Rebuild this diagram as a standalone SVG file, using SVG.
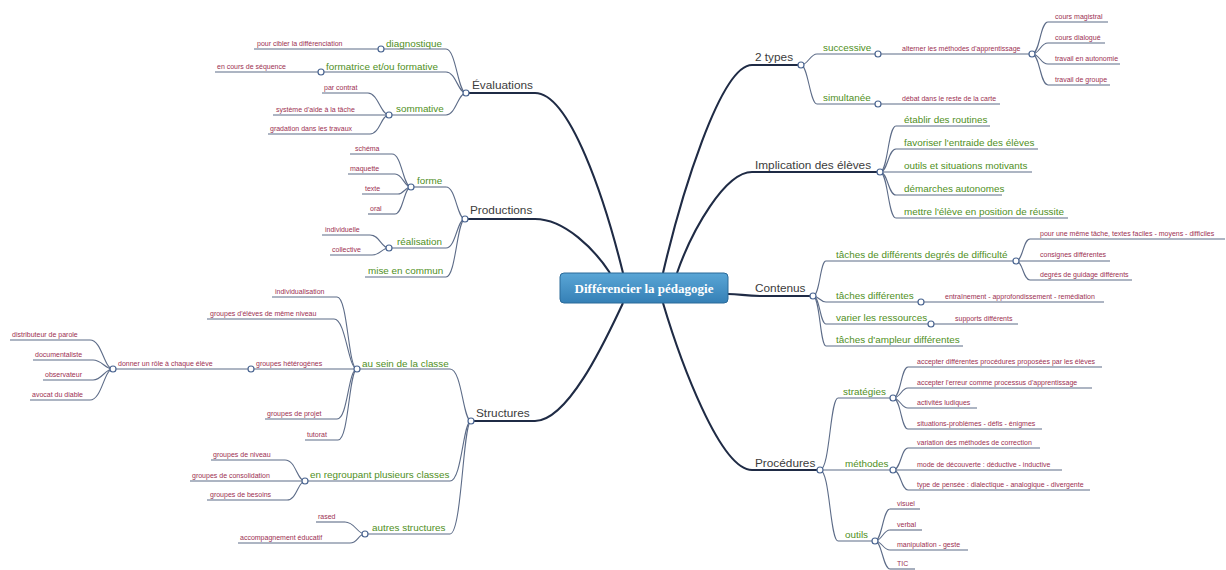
<svg xmlns="http://www.w3.org/2000/svg" width="1226" height="570" viewBox="0 0 1226 570">
<defs>
<linearGradient id="cg" x1="0" y1="0" x2="0" y2="1">
<stop offset="0" stop-color="#5aa6d6"/>
<stop offset="1" stop-color="#3580b6"/>
</linearGradient>
<style>
text{font-family:"Liberation Sans",Arial,sans-serif}
.m{font-size:11.8px;fill:#3c3c3c}
.g{font-size:9.9px;fill:#4f8f23}
.r{font-size:7px;fill:#9c2f52}
.ln{fill:none;stroke:#5d6c88;stroke-width:1.1}
.mb{fill:none;stroke:#1f2b45;stroke-width:2.1}
.k{fill:#fff;stroke:#4a6591;stroke-width:1.2}
.ct{font-family:"Liberation Serif",serif;font-size:13px;font-weight:bold;fill:#fff}
</style>
</defs>
<rect width="1226" height="570" fill="#fff"/>
<g id="connectors">
<path class="mb" d="M466,93 H535 C570,93 605,200 623,273"/>
<path class="mb" d="M465,219 H535 C565,219 595,250 610,273"/>
<path class="mb" d="M471,421 H535 C570,421 610,330 623,303"/>
<path class="mb" d="M801,65 H752 C720,65 680,200 663,273"/>
<path class="mb" d="M880,172 H752 C725,172 692,230 677,273"/>
<path class="mb" d="M728,294 C740,294 745,296 760,296 H813"/>
<path class="mb" d="M820,470 H752 C720,470 680,360 663,303"/>
<path class="ln" d="M446,49 C456,49 458,93 466,93"/>
<path class="ln" d="M446,72 C456,72 458,93 466,93"/>
<path class="ln" d="M446,115 C456,115 458,93 466,93"/>
<path class="ln" d="M368,93 C378,93 381,115 389,115"/>
<path class="ln" d="M370,134 C380,134 381,115 389,115"/>
<path class="ln" d="M446,187 C456,187 457,219 465,219"/>
<path class="ln" d="M446,248 C456,248 457,219 465,219"/>
<path class="ln" d="M446,277 C456,277 457,219 465,219"/>
<path class="ln" d="M392,154 C402,154 403,187 411,187"/>
<path class="ln" d="M395,174 C403,174 404,187 411,187"/>
<path class="ln" d="M398,194 C404,194 405,187 411,187"/>
<path class="ln" d="M395,214 C403,214 404,187 411,187"/>
<path class="ln" d="M370,235 C380,235 381,248 389,248"/>
<path class="ln" d="M372,255 C380,255 382,248 389,248"/>
<path class="ln" d="M450,369 C462,369 463,421 471,421"/>
<path class="ln" d="M450,481 C462,481 463,421 471,421"/>
<path class="ln" d="M450,534 C462,534 463,421 471,421"/>
<path class="ln" d="M337,297 C348,297 348,369 357,369"/>
<path class="ln" d="M334,319 C346,319 348,369 357,369"/>
<path class="ln" d="M337,419 C348,419 348,369 357,369"/>
<path class="ln" d="M338,440 C349,440 349,369 357,369"/>
<path class="ln" d="M90,340 C102,340 104,369 113,369"/>
<path class="ln" d="M93,360 C102,360 105,369 113,369"/>
<path class="ln" d="M93,380 C102,380 105,369 113,369"/>
<path class="ln" d="M90,400 C102,400 104,369 113,369"/>
<path class="ln" d="M285,460 C296,460 297,481 305,481"/>
<path class="ln" d="M287,500 C297,500 298,481 305,481"/>
<path class="ln" d="M345,522 C355,522 357,534 365,534"/>
<path class="ln" d="M350,543 C358,543 358,534 365,534"/>
<path class="ln" d="M801,65 C808,65 810,54 817,54"/>
<path class="ln" d="M801,65 C808,65 810,104 817,104"/>
<path class="ln" d="M1032,54 C1040,54 1040,22 1048,22"/>
<path class="ln" d="M1032,54 C1040,54 1040,43 1048,43"/>
<path class="ln" d="M1032,54 C1040,54 1040,64 1048,64"/>
<path class="ln" d="M1032,54 C1040,54 1040,85 1048,85"/>
<path class="ln" d="M880,172 C888,172 888,126 896,126"/>
<path class="ln" d="M880,172 C888,172 888,149 896,149"/>
<path class="ln" d="M880,172 C888,172 888,195 896,195"/>
<path class="ln" d="M880,172 C888,172 888,218 896,218"/>
<path class="ln" d="M813,296 C820,296 820,261 826,261"/>
<path class="ln" d="M813,296 C819,296 820,302 826,302"/>
<path class="ln" d="M813,296 C820,296 820,324 826,324"/>
<path class="ln" d="M813,296 C820,296 820,346 826,346"/>
<path class="ln" d="M1016,261 C1023,261 1023,239 1030,239"/>
<path class="ln" d="M1016,261 C1023,261 1023,280 1030,280"/>
<path class="ln" d="M820,470 C830,470 830,398 838,398"/>
<path class="ln" d="M820,470 C830,470 830,541 838,541"/>
<path class="ln" d="M893,398 C901,398 901,367 908,367"/>
<path class="ln" d="M893,398 C901,398 901,388 908,388"/>
<path class="ln" d="M893,398 C900,398 901,408 908,408"/>
<path class="ln" d="M893,398 C901,398 901,429 908,429"/>
<path class="ln" d="M893,470 C901,470 901,448 908,448"/>
<path class="ln" d="M893,470 C901,470 901,490 908,490"/>
<path class="ln" d="M875,541 C882,541 883,509 890,509"/>
<path class="ln" d="M875,541 C882,541 883,530 890,530"/>
<path class="ln" d="M875,541 C882,541 883,550 890,550"/>
<path class="ln" d="M875,541 C882,541 883,569 890,569"/>
</g>
<g id="center">
<rect x="560" y="273" width="168" height="30" rx="4" fill="url(#cg)" stroke="#2a6a99" stroke-width="1"/>
<text class="ct" x="644" y="292.5" text-anchor="middle">Différencier la pédagogie</text>
</g>
<g id="n-evaluations"><text class="m" x="472" y="89">Évaluations</text><circle class="k" cx="466" cy="93" r="3"/></g>
<g id="n-diagnostique"><path class="ln" d="M384,49 H446"/><text class="g" x="386" y="46.5">diagnostique</text><circle class="k" cx="381" cy="49" r="3"/></g>
<g id="n-cibler"><path class="ln" d="M254,49 H378"/><text class="r" x="257" y="46">pour cibler la différenciation</text></g>
<g id="n-formatrice"><path class="ln" d="M324,72 H446"/><text class="g" x="326" y="69.5">formatrice et/ou formative</text><circle class="k" cx="321" cy="72" r="3"/></g>
<g id="n-sequence"><path class="ln" d="M215,72 H318"/><text class="r" x="217" y="69">en cours de séquence</text></g>
<g id="n-sommative"><path class="ln" d="M392,115 H446"/><text class="g" x="396" y="111.5">sommative</text><circle class="k" cx="389" cy="115" r="3"/></g>
<g id="n-contrat"><path class="ln" d="M322,93 H368"/><text class="r" x="324" y="90">par contrat</text></g>
<g id="n-aide"><path class="ln" d="M273,115 H386"/><text class="r" x="276" y="111.5">système d'aide à la tâche</text></g>
<g id="n-gradation"><path class="ln" d="M268,134 H370"/><text class="r" x="270" y="131">gradation dans les travaux</text></g>
<g id="n-productions"><text class="m" x="470" y="214">Productions</text><circle class="k" cx="465" cy="219" r="3"/></g>
<g id="n-forme"><path class="ln" d="M414,187 H446"/><text class="g" x="417" y="183.5">forme</text><circle class="k" cx="411" cy="187" r="3"/></g>
<g id="n-schema"><path class="ln" d="M350,154 H392"/><text class="r" x="355" y="150.5">schéma</text></g>
<g id="n-maquette"><path class="ln" d="M348,174 H395"/><text class="r" x="350" y="170.5">maquette</text></g>
<g id="n-texte"><path class="ln" d="M362,194 H398"/><text class="r" x="365" y="190.5">texte</text></g>
<g id="n-oral"><path class="ln" d="M368,214 H395"/><text class="r" x="370" y="210.5">oral</text></g>
<g id="n-realisation"><path class="ln" d="M392,248 H446"/><text class="g" x="397" y="244.5">réalisation</text><circle class="k" cx="389" cy="248" r="3"/></g>
<g id="n-individuelle"><path class="ln" d="M322,235 H370"/><text class="r" x="325" y="231.5">individuelle</text></g>
<g id="n-collective"><path class="ln" d="M330,255 H372"/><text class="r" x="332" y="251.5">collective</text></g>
<g id="n-commun"><path class="ln" d="M365,277 H446"/><text class="g" x="368" y="274">mise en commun</text></g>
<g id="n-structures"><text class="m" x="476" y="417">Structures</text><circle class="k" cx="471" cy="421" r="3"/></g>
<g id="n-classe"><path class="ln" d="M360,369 H450"/><text class="g" x="362" y="366.5">au sein de la classe</text><circle class="k" cx="357" cy="369" r="3"/></g>
<g id="n-individualisation"><path class="ln" d="M272,297 H337"/><text class="r" x="275" y="293.5">individualisation</text></g>
<g id="n-memeniveau"><path class="ln" d="M207,319 H334"/><text class="r" x="210" y="315.5">groupes d'élèves de même niveau</text></g>
<g id="n-heterogenes"><path class="ln" d="M254,369 H354"/><text class="r" x="256" y="366">groupes hétérogènes</text><circle class="k" cx="251" cy="369" r="3"/></g>
<g id="n-role"><path class="ln" d="M116,369 H248"/><text class="r" x="118" y="366">donner un rôle à chaque élève</text><circle class="k" cx="113" cy="369" r="3"/></g>
<g id="n-distributeur"><path class="ln" d="M10,340 H90"/><text class="r" x="12" y="336.5">distributeur de parole</text></g>
<g id="n-documentaliste"><path class="ln" d="M33,360 H93"/><text class="r" x="35" y="356.5">documentaliste</text></g>
<g id="n-observateur"><path class="ln" d="M43,380 H93"/><text class="r" x="45" y="376.5">observateur</text></g>
<g id="n-avocat"><path class="ln" d="M30,400 H90"/><text class="r" x="32" y="396.5">avocat du diable</text></g>
<g id="n-projet"><path class="ln" d="M265,419 H337"/><text class="r" x="267" y="415.5">groupes de projet</text></g>
<g id="n-tutorat"><path class="ln" d="M305,440 H338"/><text class="r" x="307" y="436.5">tutorat</text></g>
<g id="n-regroupant"><path class="ln" d="M308,481 H450"/><text class="g" x="310" y="477.5">en regroupant plusieurs classes</text><circle class="k" cx="305" cy="481" r="3"/></g>
<g id="n-niveau"><path class="ln" d="M211,460 H285"/><text class="r" x="213" y="456.5">groupes de niveau</text></g>
<g id="n-consolidation"><path class="ln" d="M190,481 H302"/><text class="r" x="192" y="477.5">groupes de consolidation</text></g>
<g id="n-besoins"><path class="ln" d="M207,500 H287"/><text class="r" x="210" y="496.5">groupes de besoins</text></g>
<g id="n-autres"><path class="ln" d="M368,534 H450"/><text class="g" x="372" y="530.5">autres structures</text><circle class="k" cx="365" cy="534" r="3"/></g>
<g id="n-rased"><path class="ln" d="M316,522 H345"/><text class="r" x="318" y="518.5">rased</text></g>
<g id="n-accompagnement"><path class="ln" d="M238,543 H350"/><text class="r" x="240" y="539.5">accompagnement éducatif</text></g>
<g id="n-2types"><text class="m" x="755" y="61">2 types</text><circle class="k" cx="801" cy="65" r="3"/></g>
<g id="n-successive"><path class="ln" d="M817,54 H875"/><text class="g" x="823" y="50.5">successive</text><circle class="k" cx="878" cy="54" r="3"/></g>
<g id="n-alterner"><path class="ln" d="M881,54 H1029"/><text class="r" x="902" y="50.5">alterner les méthodes d'apprentissage</text><circle class="k" cx="1032" cy="54" r="3"/></g>
<g id="n-magistral"><path class="ln" d="M1048,22 H1108"/><text class="r" x="1055" y="18.5">cours magistral</text></g>
<g id="n-dialogue"><path class="ln" d="M1048,43 H1105"/><text class="r" x="1055" y="39.5">cours dialogué</text></g>
<g id="n-autonomie"><path class="ln" d="M1048,64 H1120"/><text class="r" x="1055" y="60.5">travail en autonomie</text></g>
<g id="n-groupe"><path class="ln" d="M1048,85 H1110"/><text class="r" x="1055" y="81.5">travail de groupe</text></g>
<g id="n-simultanee"><path class="ln" d="M817,104 H875"/><text class="g" x="823" y="100.5">simultanée</text><circle class="k" cx="878" cy="104" r="3"/></g>
<g id="n-debat"><path class="ln" d="M881,104 H1000"/><text class="r" x="902" y="100.5">débat dans le reste de la carte</text></g>
<g id="n-implication"><text class="m" x="755" y="169">Implication des élèves</text><circle class="k" cx="880" cy="172" r="3"/></g>
<g id="n-routines"><path class="ln" d="M896,126 H990"/><text class="g" x="904" y="123">établir des routines</text></g>
<g id="n-entraide"><path class="ln" d="M896,149 H1038"/><text class="g" x="904" y="146">favoriser l'entraide des élèves</text></g>
<g id="n-outilsmotiv"><path class="ln" d="M883,172 H1032"/><text class="g" x="904" y="168.5">outils et situations motivants</text></g>
<g id="n-demarches"><path class="ln" d="M896,195 H1002"/><text class="g" x="904" y="191.5">démarches autonomes</text></g>
<g id="n-reussite"><path class="ln" d="M896,218 H1068"/><text class="g" x="904" y="214.5">mettre l'élève en position de réussite</text></g>
<g id="n-contenus"><text class="m" x="755" y="292">Contenus</text><circle class="k" cx="813" cy="296" r="3"/></g>
<g id="n-degres"><path class="ln" d="M826,261 H1013"/><text class="g" x="836" y="257.5">tâches de différents degrés de difficulté</text><circle class="k" cx="1016" cy="261" r="3"/></g>
<g id="n-textes"><path class="ln" d="M1030,239 H1225"/><text class="r" x="1040" y="235.5">pour une même tâche, textes faciles - moyens - difficiles</text></g>
<g id="n-consignes"><path class="ln" d="M1019,261 H1110"/><text class="r" x="1040" y="256.5">consignes différentes</text></g>
<g id="n-guidage"><path class="ln" d="M1030,280 H1132"/><text class="r" x="1040" y="276.5">degrés de guidage différents</text></g>
<g id="n-tachesdiff"><path class="ln" d="M826,302 H918"/><text class="g" x="836" y="298.5">tâches différentes</text><circle class="k" cx="921" cy="302" r="3"/></g>
<g id="n-entrainement"><path class="ln" d="M924,302 H1104"/><text class="r" x="945" y="298.5">entraînement - approfondissement - remédiation</text></g>
<g id="n-ressources"><path class="ln" d="M826,324 H928"/><text class="g" x="836" y="320.5">varier les ressources</text><circle class="k" cx="931" cy="324" r="3"/></g>
<g id="n-supports"><path class="ln" d="M934,324 H1018"/><text class="r" x="955" y="320.5">supports différents</text></g>
<g id="n-ampleur"><path class="ln" d="M826,346 H963"/><text class="g" x="836" y="342.5">tâches d'ampleur différentes</text></g>
<g id="n-procedures"><text class="m" x="755" y="467">Procédures</text><circle class="k" cx="820" cy="470" r="3"/></g>
<g id="n-strategies"><path class="ln" d="M838,398 H890"/><text class="g" x="843" y="395">stratégies</text><circle class="k" cx="893" cy="398" r="3"/></g>
<g id="n-procs"><path class="ln" d="M908,367 H1102"/><text class="r" x="917" y="363.5">accepter différentes procédures proposées par les élèves</text></g>
<g id="n-erreur"><path class="ln" d="M908,388 H1092"/><text class="r" x="917" y="384.5">accepter l'erreur comme processus d'apprentissage</text></g>
<g id="n-ludiques"><path class="ln" d="M908,408 H977"/><text class="r" x="917" y="404.5">activités ludiques</text></g>
<g id="n-situations"><path class="ln" d="M908,429 H1042"/><text class="r" x="917" y="425.5">situations-problèmes - défis - énigmes</text></g>
<g id="n-methodes"><path class="ln" d="M823,470 H890"/><text class="g" x="845" y="466.5">méthodes</text><circle class="k" cx="893" cy="470" r="3"/></g>
<g id="n-correction"><path class="ln" d="M908,448 H1040"/><text class="r" x="917" y="444.5">variation des méthodes de correction</text></g>
<g id="n-decouverte"><path class="ln" d="M896,470 H1062"/><text class="r" x="917" y="466.5">mode de découverte : déductive - inductive</text></g>
<g id="n-pensee"><path class="ln" d="M908,490 H1090"/><text class="r" x="917" y="486.5">type de pensée : dialectique - analogique - divergente</text></g>
<g id="n-outils"><path class="ln" d="M838,541 H872"/><text class="g" x="845" y="537.5">outils</text><circle class="k" cx="875" cy="541" r="3"/></g>
<g id="n-visuel"><path class="ln" d="M890,509 H920"/><text class="r" x="897" y="505.5">visuel</text></g>
<g id="n-verbal"><path class="ln" d="M890,530 H922"/><text class="r" x="897" y="526.5">verbal</text></g>
<g id="n-geste"><path class="ln" d="M890,550 H968"/><text class="r" x="897" y="546.5">manipulation - geste</text></g>
<g id="n-tic"><path class="ln" d="M890,569 H915"/><text class="r" x="897" y="565.5">TIC</text></g>
</svg>
